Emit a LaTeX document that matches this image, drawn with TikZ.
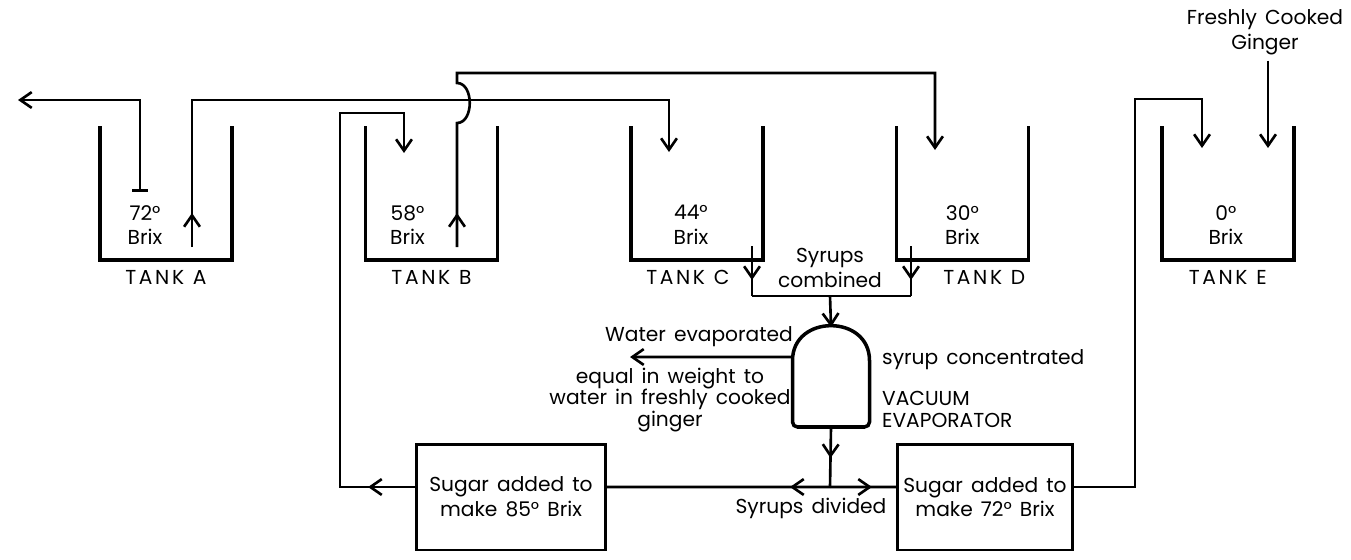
\documentclass[tikz,border=0pt]{standalone}
\usepackage{fontspec}
\setmainfont[WordSpace=1.5]{Poppins}
\newfontfamily\tankfont[LetterSpace=13, WordSpace=1.1]{Poppins}
\usetikzlibrary{arrows.meta,positioning,decorations.markings}

\begin{document}
\begin{tikzpicture}[
    x=0.02cm, y=-0.02cm,
    node distance=2.67cm,
    font=\fontsize{11.5}{14}\selectfont,
    >={Straight Barb[length=6.5pt, width=9pt]},
    tank/.style={minimum width=2.64cm, minimum height=2.68cm, inner sep=0pt, outer sep=0pt},
    wall/.style={line width=2pt},
    pipe/.style={line width=1.5pt},
    flow/.style={postaction={decorate}, decoration={markings,
                 mark=at position #1 with {\arrow{Straight Barb[length=6.5pt, width=9pt]}}}},
    sugarbox/.style={draw, line width=1.7pt, minimum height=2.12cm, align=center},
    vessel/.style={line width=2pt},
    caption/.style={font=\tankfont\fontsize{11.5}{14}\selectfont},
    txt/.style={align=center},
    tight/.style={font=\fontsize{11.5}{12.5}\selectfont}
]
\useasboundingbox (0,0) rectangle (1351,559);

% tanks
\node[tank] (tankA) at (166,193) {};
\node[tank, right=of tankA] (tankB) {};
\node[tank, right=of tankB] (tankC) {};
\node[tank, right=of tankC] (tankD) {};
\node[tank, right=of tankD] (tankE) {};

\draw[wall] (tankA.north west) |- (tankA.south east) -- (tankA.north east);
\draw[wall] (tankB.north west) |- (tankB.south east) -- (tankB.north east);
\draw[wall] (tankC.north west) |- (tankC.south east) -- (tankC.north east);
\draw[wall] (tankD.north west) |- (tankD.south east) -- (tankD.north east);
\draw[wall] (tankE.north west) |- (tankE.south east) -- (tankE.north east);

\node[txt] (brixA) at ([xshift=-0.42cm, yshift=-0.64cm]tankA.center) {72°\\Brix};
\node[txt] (brixB) at ([xshift=-0.48cm, yshift=-0.64cm]tankB.center) {58°\\Brix};
\node[txt] (brixC) at ([xshift=-0.12cm, yshift=-0.64cm]tankC.center) {44°\\Brix};
\node[txt] (brixD) at ([yshift=-0.64cm]tankD.center) {30°\\Brix};
\node[txt] (brixE) at ([xshift=-0.04cm, yshift=-0.64cm]tankE.center) {0°\\Brix};

\node[caption, below=0.08cm of tankA] (capA) {TANK A};
\node[caption, below=0.08cm of tankB] (capB) {TANK B};
\node[caption, below=0.08cm of tankC, xshift=-0.18cm] (capC) {TANK C};
\node[caption, below=0.08cm of tankD, xshift=0.44cm] (capD) {TANK D};
\node[caption, below=0.08cm of tankE] (capE) {TANK E};

% evaporator and sugar boxes
\node[minimum width=1.54cm, minimum height=2cm, inner sep=0pt, outer sep=0pt] (evap) at (831,377) {};
\draw[vessel, rounded corners=0.1cm] ([yshift=-0.77cm]evap.north west)
    .. controls +(0,1.03cm) and +(0,1.03cm) .. ([yshift=-0.77cm]evap.north east)
    -- (evap.south east) -- (evap.south west) -- cycle;

\node[sugarbox, minimum width=3.78cm] (sugarL) at (511,497) {Sugar added to\\make 85° Brix};
\node[sugarbox, minimum width=3.48cm] (sugarR) at (985,497) {Sugar added to\\make 72° Brix};

% texts
\node[txt] (ginger) at (1265,32) {Freshly Cooked\\Ginger};
\node[txt] (combined) at (830,268) {Syrups\\combined};
\node[txt] (waterOut) at (699,337) {Water evaporated};
\node[txt, tight] (waterNote) at (670,400) {equal in weight to\\water in freshly cooked\\ginger};
\node[anchor=west] (syrupConc) at (876,360) {syrup concentrated};
\node[anchor=west, align=left, tight] (evapName) at (876,409) {VACUUM\\EVAPORATOR};
\node[txt] (divided) at (811,508) {Syrups divided};

% pipe ends and bends
\coordinate (drawA) at (140,192);
\coordinate (spill) at (18,100);
\coordinate (riseA) at (192,247);
\coordinate (lvlMain) at (0,100);
\coordinate (dropC) at (669,152);
\coordinate (riseB) at (457,247);
\coordinate (hopLow) at (457,123);
\coordinate (hopHigh) at (457,83);
\coordinate (lvlHigh) at (0,73);
\coordinate (dropD) at (935,150);
\coordinate (bendB) at (340,113);
\coordinate (feedB) at (404,153);
\coordinate (drainC) at (752,246);
\coordinate (drainD) at (911,246);
\coordinate (collect) at (830,296);
\coordinate (vent) at (630,357);
\coordinate (split) at (830,487);
\coordinate (bendE) at (1135,99);
\coordinate (feedE) at (1202,148);
\coordinate (feedGinger) at (1268,148);

% pipes
\draw[pipe, |->] (drawA) |- (spill);
\draw[pipe, ->, flow=0.68cm] (riseA) -- (riseA |- lvlMain) -| (dropC);
\draw[pipe, ->, flow=0.68cm] (riseB) -- (hopLow)
    .. controls +(17,0) and +(17,0) .. (hopHigh) -- (hopHigh |- lvlHigh) -| (dropD);
\draw[pipe, ->, flow=0.94cm] ([yshift=0.2cm]sugarL.west) -| (bendB) -| (feedB);
\draw[pipe, flow=0.68cm] (drainC) -- (drainC |- collect);
\draw[pipe, flow=0.68cm] (drainD) -- (drainD |- collect);
\draw[pipe] (drainC |- collect) -- (drainD |- collect);
\draw[pipe, ->] (collect) -- (evap.north);
\draw[pipe, ->] ([yshift=0.4cm]evap.west) -- (vent);
\draw[pipe, flow=0.62cm] (evap.south) -- (split);
\draw[pipe, flow=0.8cm] (split) -- ([yshift=0.2cm]sugarL.east);
\draw[pipe, flow=0.84cm] (split) -- ([yshift=0.2cm]sugarR.west);
\draw[pipe, ->] ([yshift=0.2cm]sugarR.east) -| (bendE) -| (feedE);
\draw[pipe, ->] (ginger.south -| feedGinger) -- (feedGinger);
\end{tikzpicture}
\end{document}
